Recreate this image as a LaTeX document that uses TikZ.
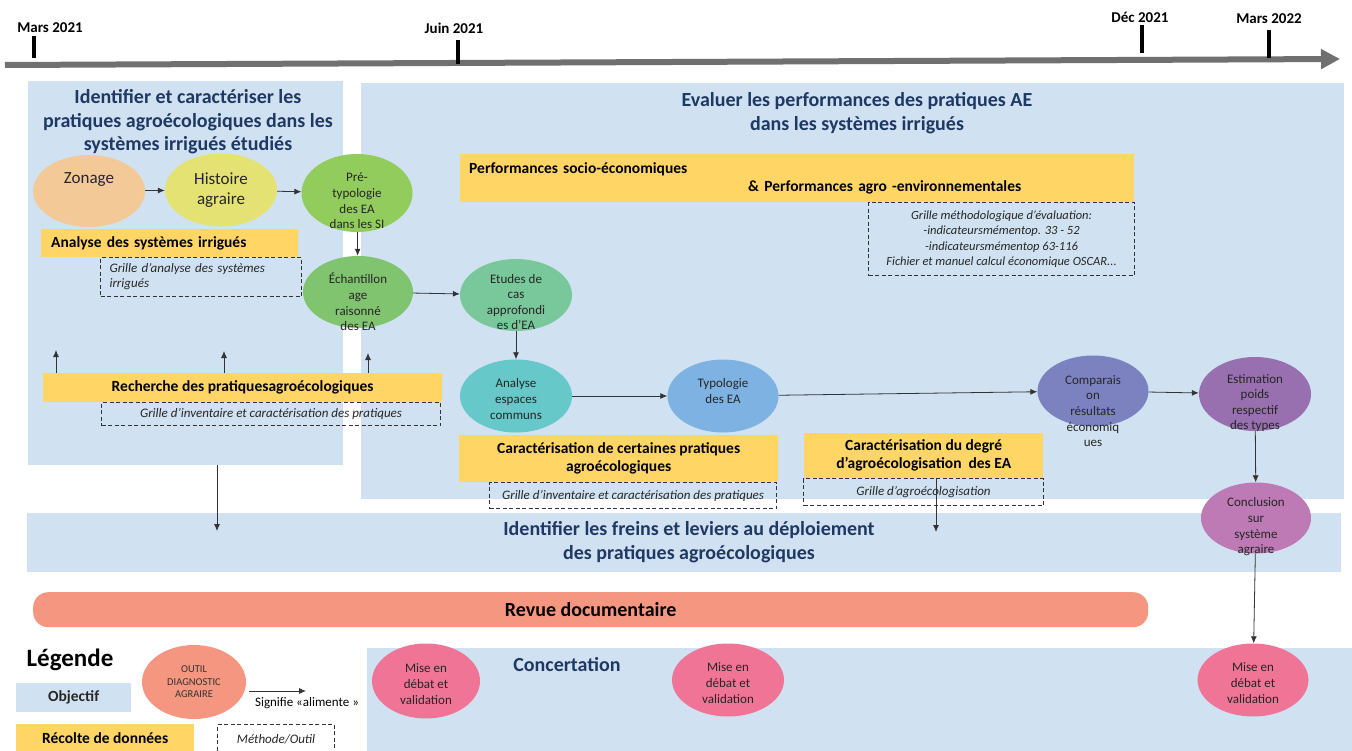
\documentclass[tikz,border=0pt]{standalone}
\usepackage{fontspec}
\setmainfont{Carlito}
\usetikzlibrary{shapes.geometric,arrows.meta}

\definecolor{fondbleu}{RGB}{208,226,241}
\definecolor{jaune}{RGB}{255,214,102}
\definecolor{titrebleu}{RGB}{31,56,100}
\definecolor{frise}{RGB}{112,112,112}
\definecolor{czonage}{RGB}{243,201,152}
\definecolor{chistoire}{RGB}{228,226,114}
\definecolor{cpretypo}{RGB}{146,204,92}
\definecolor{cechant}{RGB}{128,196,112}
\definecolor{cetudes}{RGB}{120,200,156}
\definecolor{cespaces}{RGB}{102,200,200}
\definecolor{ctypo}{RGB}{126,178,226}
\definecolor{ccompar}{RGB}{124,130,192}
\definecolor{cestim}{RGB}{152,112,176}
\definecolor{cconcl}{RGB}{190,122,180}
\definecolor{cdebat}{RGB}{240,116,150}
\definecolor{crevue}{RGB}{245,151,128}

\tikzset{
  objectif/.style={fill=fondbleu, inner sep=0pt, anchor=north west},
  recolte/.style={fill=jaune, inner sep=0pt, anchor=north west, align=center,
    font=\bfseries\fontsize{15.5}{18}\selectfont},
  methode/.style={draw=black!80, line width=1.1pt, dash pattern=on 4pt off 2.5pt,
    inner sep=0pt, anchor=north west, align=center, text=black!85,
    font=\itshape\fontsize{13}{15}\selectfont},
  titre/.style={text=titrebleu, align=center, font=\bfseries\fontsize{20}{23.5}\selectfont},
  etape/.style={ellipse, inner sep=0pt, minimum width=111pt, minimum height=73pt},
  etxt/.style={align=center, text=black!85, font=\fontsize{13}{15.6}\selectfont},
  fleche/.style={-{Latex[length=7pt,width=6pt]}, black!80, line width=0.8pt},
  date/.style={font=\bfseries\fontsize{15}{18}\selectfont},
}

\begin{document}
\begin{tikzpicture}[x=1pt,y=-1pt]
\useasboundingbox (0,0) rectangle (1352,751);

% frise chronologique
\draw[frise, line width=6pt, -{Triangle[length=19pt,width=19pt]}] (5,65) -- (1340,59);
\foreach \x/\ya/\yb/\lx/\ly/\d in {34/36/58/50/28/Mars 2021, 458/40/64/454/28/Juin 2021,
  1142/25/53/1140/17/Déc 2021, 1269/30/58/1269/19/Mars 2022}{
  \draw[line width=4pt] (\x,\ya) -- (\x,\yb);
  \node[date] (date-\x) at (\lx,\ly) {\d};
}

% objectifs
\node[objectif, minimum width=315, minimum height=384] (pident) at (28,81) {};
\node[objectif, minimum width=983, minimum height=416] (peval) at (361,83) {};
\node[objectif, minimum width=1314, minimum height=59] (pfreins) at (27,513) {};
\node[objectif, minimum width=985, minimum height=104] (pconcert) at (367,648) {};

\node[titre] (tident) at (188,122) {Identifier et caractériser les\\pratiques agroécologiques dans les\\systèmes irrigués étudiés};
\node[titre] (teval) at (857,113) {Evaluer les performances des pratiques AE\\dans les systèmes irrigués};
\node[titre] (tfreins) at (689,542) {Identifier les freins et leviers au déploiement\\des pratiques agroécologiques};
\node[titre] (tconcert) at (567,665) {Concertation};

% revue documentaire
\node[fill=crevue, rounded corners=15pt, anchor=north west, minimum width=1115, minimum height=35,
  font=\bfseries\fontsize{20}{24}\selectfont] (revue) at (33,592) {Revue documentaire};

% recolte de donnees et methodes
\node[recolte, minimum width=257, minimum height=28, text width=237, inner xsep=10pt, align=left] (analyse) at (41,229) {Analyse des systèmes irrigués};
\node[methode, minimum width=201, minimum height=39, text width=183, inner xsep=9pt, align=left] (ganalyse) at (100,257) {Grille d’analyse des systèmes\\irrigués};
\node[recolte, minimum width=399, minimum height=29] (recherche) at (43,373) {Recherche des pratiquesagroécologiques};
\node[methode, minimum width=339, minimum height=23] (grecherche) at (101,402) {Grille d’inventaire et caractérisation des pratiques};
\node[recolte, minimum width=674, minimum height=48, text width=656, inner xsep=9pt, align=left] (perf) at (460,154)
  {Performances socio-économiques\\\hspace*{279pt}\& Performances agro -environnementales};
\node[methode, minimum width=266, minimum height=73, font=\itshape\fontsize{12.5}{15.5}\selectfont] (gperf) at (868,202)
  {Grille méthodologique d’évaluation:\\-indicateursmémentop. 33 - 52\\-indicateursmémentop 63-116\\Fichier et manuel calcul économique OSCAR...};
\node[recolte, minimum width=319, minimum height=47] (carac) at (459,435) {Caractérisation de certaines pratiques\\agroécologiques};
\node[methode, minimum width=287, minimum height=26] (gcarac) at (489,482) {Grille d’inventaire et caractérisation des pratiques};
\node[recolte, minimum width=239, minimum height=45] (agro) at (804,433) {Caractérisation du degré\\d’agroécologisation\ \ des EA};
\node[methode, minimum width=240, minimum height=27] (gagro) at (803,478) {Grille d’agroécologisation};

% outils diagnostic agraire
\node[etape, fill=czonage, minimum width=112, minimum height=72] (zon) at (89,191) {};
\node[etape, fill=chistoire, minimum width=112] (hist) at (221,190) {};
\node[etape, fill=cpretypo, minimum height=78] (pret) at (357,193) {};
\node[etape, fill=cechant, minimum width=110, minimum height=72] (ech) at (358,292) {};
\node[etape, fill=cetudes, minimum width=112, minimum height=72] (etud) at (516,295) {};
\node[etape, fill=cespaces, minimum width=112] (esp) at (516,396) {};
\node[etape, fill=ctypo] (typo) at (723,396) {};
\node[etape, fill=ccompar, minimum height=71] (comp) at (1093,391) {};
\node[etape, fill=cestim, minimum width=112, minimum height=74] (esti) at (1255,394) {};
\node[etape, fill=cconcl, minimum width=110, minimum height=71] (concl) at (1256,518) {};
\node[etape, fill=cdebat, minimum width=108, minimum height=75] (debat1) at (426,681) {};
\node[etape, fill=cdebat, minimum width=112] (debat2) at (728,680) {};
\node[etape, fill=cdebat] (debat3) at (1253,680) {};

\node[etxt, font=\fontsize{17}{20}\selectfont] (zon-t) at (89,180) {Zonage};
\node[etxt, font=\fontsize{17}{20}\selectfont] (hist-t) at (221,190) {Histoire\\agraire};
\node[etxt] (pret-t) at (357,201) {Pré-\\typologie\\des EA\\dans les SI};
\node[etxt] (ech-t) at (358,302) {Échantillon\\age\\raisonné\\des EA};
\node[etxt] (etud-t) at (516,302) {Etudes de\\cas\\approfondi\\es d’EA};
\node[etxt] (esp-t) at (516,399) {Analyse\\espaces\\communs};
\node[etxt] (typo-t) at (723,391) {Typologie\\des EA};
\node[etxt] (comp-t) at (1093,411) {Comparais\\on\\résultats\\économiq\\ues};
\node[etxt] (esti-t) at (1255,403) {Estimation\\poids\\respectif\\des types};
\node[etxt] (concl-t) at (1256,527) {Conclusion\\sur\\système\\agraire};
\node[etxt] (debat1-t) at (426,684) {Mise en\\débat et\\validation};
\node[etxt] (debat2-t) at (728,683) {Mise en\\débat et\\validation};
\node[etxt] (debat3-t) at (1253,683) {Mise en\\débat et\\validation};

% liens
\draw[fleche] (zon) -- (hist);
\draw[fleche] (hist) -- (pret);
\draw[fleche] (pret) -- (ech);
\draw[fleche] (ech) -- (etud);
\draw[fleche] (etud) -- (esp);
\draw[fleche] (esp) -- (typo);
\draw[fleche] (typo) -- (comp);
\draw[fleche] (comp) -- (esti);
\draw[fleche] (esti) -- (concl);
\draw[fleche] (concl) -- (debat3);

\coordinate (up1) at (56,350);
\coordinate (up2) at (224,351);
\coordinate (up3) at (368,353);
\foreach \c in {up1,up2,up3}
  \draw[fleche] (\c |- recherche.north) -- (\c);
\coordinate (down1) at (217,531);
\coordinate (down2) at (936,532);
\draw[fleche] (down1 |- pident.south) -- (down1);
\draw[fleche] (down2 |- agro.south) -- (down2);

% legende
\node[font=\bfseries\fontsize{25}{28}\selectfont] (legende) at (70,660) {Légende};
\node[objectif, minimum width=115, minimum height=29, font=\bfseries\fontsize{15.5}{18}\selectfont, text=black!85] (lobj) at (16,683) {Objectif};
\node[recolte, minimum width=178, minimum height=28] (lrec) at (16,724) {Récolte de données};
\node[methode, minimum width=117, minimum height=30] (lmeth) at (217,724) {Méthode/Outil};
\node[etape, fill=crevue, minimum width=104, minimum height=74, align=center, text=black!80,
  font=\fontsize{10.5}{12.5}\selectfont] (loutil) at (194,682) {OUTIL\\DIAGNOSTIC\\AGRAIRE};
\coordinate (alim-a) at (249,691);
\coordinate (alim-b) at (306,691);
\draw[fleche] (alim-a) -- (alim-b);
\node[font=\fontsize{13}{15}\selectfont] (lalim) at (307,703) {Signifie «alimente »};
\end{tikzpicture}
\end{document}
